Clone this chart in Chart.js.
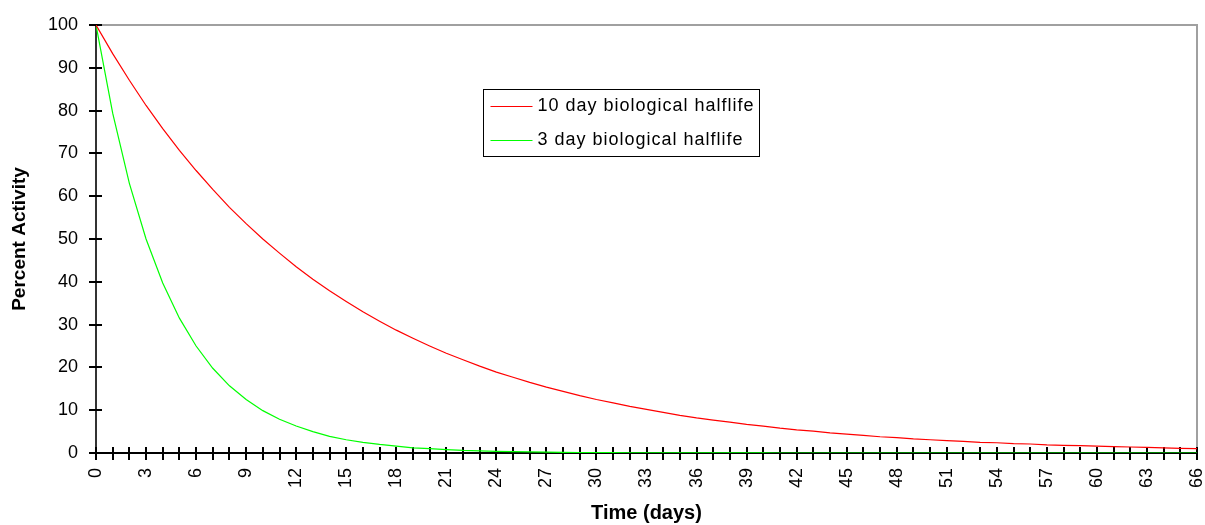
<!DOCTYPE html>
<html>
<head>
<meta charset="utf-8">
<script src="https://cdn.jsdelivr.net/npm/chart.js@4.4.1/dist/chart.umd.min.js"></script>
<style>
html,body{margin:0;padding:0;background:#fff;}
#wrap{width:1205px;height:525px;position:relative;}
</style>
</head>
<body>
<div id="wrap"><canvas id="c" width="1205" height="525"></canvas></div>
<script>
const days = [0,1,2,3,4,5,6,7,8,9,10,11,12,13,14,15,16,17,18,19,20,21,22,23,24,25,26,27,28,29,30,31,32,33,34,35,36,37,38,39,40,41,42,43,44,45,46,47,48,49,50,51,52,53,54,55,56,57,58,59,60,61,62,63,64,65,66];
const halflife10 = [100,93.3,87.1,81.2,75.8,70.7,66.0,61.6,57.4,53.6,50.0,46.7,43.5,40.6,37.9,35.4,33.0,30.8,28.7,26.8,25.0,23.3,21.8,20.3,18.9,17.7,16.5,15.4,14.4,13.4,12.5,11.7,10.9,10.2,9.5,8.8,8.2,7.7,7.2,6.7,6.3,5.8,5.4,5.1,4.7,4.4,4.1,3.8,3.6,3.3,3.1,2.9,2.7,2.5,2.4,2.2,2.1,1.9,1.8,1.7,1.6,1.5,1.4,1.3,1.2,1.1,1.0];
const halflife3 = [100,79.4,63.0,50.0,39.7,31.5,25.0,19.8,15.7,12.5,9.9,7.9,6.3,5.0,3.9,3.1,2.5,2.0,1.6,1.2,1.0,0.8,0.6,0.5,0.4,0.3,0.25,0.2,0.15,0.1,0.1,0.08,0.06,0.05,0.04,0.03,0.02,0.02,0.01,0.01,0.01,0,0,0,0,0,0,0,0,0,0,0,0,0,0,0,0,0,0,0,0,0,0,0,0,0,0];
const xTickLabels = ['0','3','6','9','12','15','18','21','24','27','30','33','36','39','42','45','48','51','54','57','60','63','66'];
const yTickLabels = ['0','10','20','30','40','50','60','70','80','90','100'];
const seriesNames = ['10 day biological halflife','3 day biological halflife'];
const seriesColors = ['#ff0000','#00ff00'];

const FONT = '"Liberation Sans", Arial, sans-serif';

const crossTicks = {
  id: 'crossTicks',
  beforeDatasetsDraw(chart) {
    const ctx = chart.ctx, a = chart.chartArea;
    const xs = chart.scales.x, ys = chart.scales.y;
    ctx.save();
    ctx.strokeStyle = '#a0a0a0';
    ctx.lineWidth = 2;
    ctx.beginPath();
    ctx.moveTo(a.left, a.top); ctx.lineTo(a.right, a.top); ctx.lineTo(a.right, a.bottom);
    ctx.stroke();
    ctx.strokeStyle = '#000';
    ctx.lineWidth = 2;
    ctx.beginPath();
    xs.ticks.forEach((t, i) => {
      const px = Math.round(xs.getPixelForTick(i));
      ctx.moveTo(px, a.bottom - 6); ctx.lineTo(px, a.bottom + 7);
    });
    ys.ticks.forEach((t, i) => {
      const py = Math.round(ys.getPixelForTick(i));
      ctx.moveTo(a.left - 7, py); ctx.lineTo(a.left + 6, py);
    });
    ctx.stroke();
    ctx.restore();
  }
};

const boxLegend = {
  id: 'boxLegend',
  afterDraw(chart) {
    const ctx = chart.ctx, a = chart.chartArea;
    const bx = a.left + 387.5, by = a.top + 64.5, bw = 276, bh = 67;
    ctx.save();
    ctx.fillStyle = '#fff';
    ctx.fillRect(bx, by, bw, bh);
    ctx.strokeStyle = '#000';
    ctx.lineWidth = 1;
    ctx.strokeRect(bx, by, bw, bh);
    ctx.font = '18px ' + FONT;
    if ('letterSpacing' in ctx) ctx.letterSpacing = '1px';
    ctx.textBaseline = 'middle';
    ctx.fillStyle = '#000';
    chart.data.datasets.forEach((ds, i) => {
      const cy = by + 16.5 + i * 34;
      ctx.strokeStyle = ds.borderColor;
      ctx.beginPath();
      ctx.moveTo(bx + 7, Math.round(cy) + 0.5); ctx.lineTo(bx + 49, Math.round(cy) + 0.5);
      ctx.stroke();
      ctx.fillText(ds.label, bx + 54, cy);
    });
    ctx.restore();
  }
};

new Chart(document.getElementById('c'), {
  type: 'line',
  data: {
    datasets: [
      { label: seriesNames[0], data: days.map((d, i) => ({x: d, y: halflife10[i]})), borderColor: seriesColors[0], borderWidth: 1.2, pointRadius: 0, tension: 0, fill: false },
      { label: seriesNames[1], data: days.map((d, i) => ({x: d, y: halflife3[i]})), borderColor: seriesColors[1], borderWidth: 1.2, pointRadius: 0, tension: 0, fill: false }
    ]
  },
  options: {
    responsive: false,
    animation: false,
    devicePixelRatio: 1,
    layout: { padding: { top: 25, right: 8, left: 0, bottom: 0 } },
    plugins: { legend: { display: false }, tooltip: { enabled: false } },
    scales: {
      x: {
        type: 'linear', min: 0, max: 66,
        afterFit(s) { s.height = 72; s.paddingLeft = 0; s.paddingRight = 0; },
        ticks: {
          stepSize: 1, autoSkip: false, minRotation: 90, maxRotation: 90, padding: 15,
          color: '#000', font: { family: FONT, size: 18 },
          callback: (v) => xTickLabels.includes(String(v)) ? String(v) : ''
        },
        grid: { display: false, drawTicks: false },
        border: { display: true, color: '#000', width: 2 },
        title: { display: true, text: 'Time (days)', color: '#000', font: { family: FONT, size: 20, weight: 'bold' }, padding: { top: 0, bottom: 0 } }
      },
      y: {
        min: 0, max: 100,
        afterFit(s) { s.width = 96; s.paddingTop = 0; s.paddingBottom = 0; },
        ticks: {
          stepSize: 10, padding: 18, color: '#000', font: { family: FONT, size: 18 },
          callback: (v) => yTickLabels.includes(String(v)) ? String(v) : ''
        },
        grid: { display: false, drawTicks: false },
        border: { display: true, color: '#333', width: 2 },
        title: { display: true, text: 'Percent Activity', color: '#000', font: { family: FONT, size: 19, weight: 'bold' }, padding: { top: 8, bottom: 0 } }
      }
    }
  },
  plugins: [crossTicks, boxLegend]
});
</script>
</body>
</html>
